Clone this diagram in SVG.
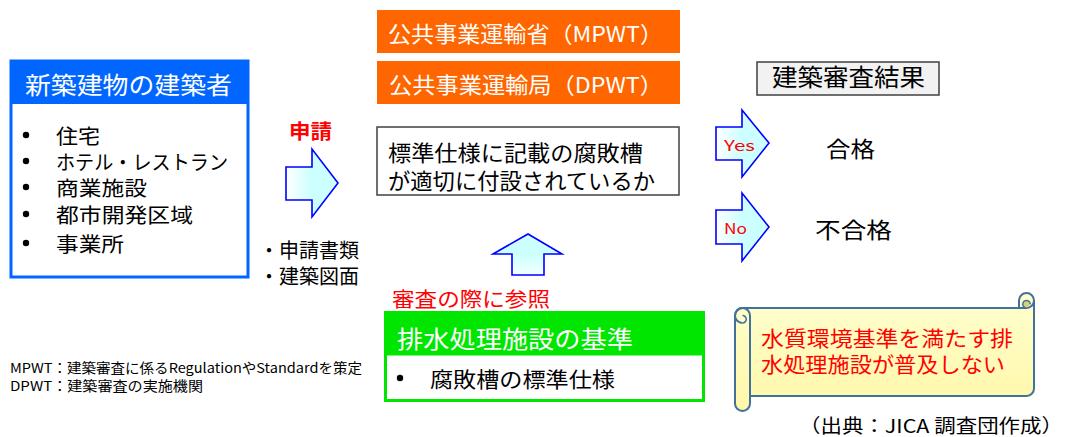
<svg xmlns="http://www.w3.org/2000/svg" width="1069" height="437" viewBox="0 0 1069 437">
<defs>
<linearGradient id="gR" x1="0" y1="0" x2="1" y2="0"><stop offset="0" stop-color="#ffffff"/><stop offset="0.5" stop-color="#ccffff"/><stop offset="1" stop-color="#ccffff"/></linearGradient>
<linearGradient id="gU" x1="0" y1="0" x2="0" y2="1"><stop offset="0" stop-color="#ccffff"/><stop offset="0.5" stop-color="#ccffff"/><stop offset="1" stop-color="#f4ffff"/></linearGradient>
<linearGradient id="gS" x1="0" y1="0" x2="0" y2="1"><stop offset="0" stop-color="#ffffd0"/><stop offset="1" stop-color="#fff7a8"/></linearGradient>
<style>
text{font-family:"Noto Sans CJK JP","Liberation Sans",sans-serif;dominant-baseline:central}
.w{fill:#ffffff}
.k{fill:#000000}
.r{fill:#ff0000}
.arr{stroke:#0000ff;stroke-width:1.6;stroke-linejoin:miter}
.dot{fill:#000000}
</style>
</defs>

<g id="builder">
<rect x="11" y="61" width="237" height="216" fill="#ffffff" stroke="#0066ff" stroke-width="3"/>
<rect x="11" y="61" width="237" height="43" fill="#0066ff"/>
<text x="25" y="83" class="w" font-size="24" textLength="207" lengthAdjust="spacingAndGlyphs">新築建物の建築者</text>
<circle class="dot" cx="26" cy="135" r="3.2"/>
<circle class="dot" cx="26" cy="161" r="3.2"/>
<circle class="dot" cx="26" cy="187" r="3.2"/>
<circle class="dot" cx="26" cy="214" r="3.2"/>
<circle class="dot" cx="26" cy="243" r="3.2"/>
<g class="k" font-size="20">
<text x="56" y="135" textLength="44" lengthAdjust="spacingAndGlyphs">住宅</text>
<text x="56" y="161" textLength="172" lengthAdjust="spacingAndGlyphs">ホテル・レストラン</text>
<text x="56" y="187" textLength="91" lengthAdjust="spacingAndGlyphs">商業施設</text>
<text x="56" y="214" textLength="137" lengthAdjust="spacingAndGlyphs">都市開発区域</text>
<text x="56" y="243" textLength="68" lengthAdjust="spacingAndGlyphs">事業所</text>
</g>
</g>

<g id="mpwt">
<rect x="377" y="10" width="303" height="43" fill="#ff6600"/>
<text x="388" y="32" class="w" font-size="22" textLength="275" lengthAdjust="spacingAndGlyphs">公共事業運輸省（MPWT）</text>
</g>
<g id="dpwt">
<rect x="377" y="61" width="303" height="43" fill="#ff6600"/>
<text x="389" y="83" class="w" font-size="22" textLength="274" lengthAdjust="spacingAndGlyphs">公共事業運輸局（DPWT）</text>
</g>

<g id="check">
<rect x="377" y="127" width="302" height="68" fill="#ffffff" stroke="#404040" stroke-width="1.5"/>
<text x="388" y="151" class="k" font-size="22" textLength="255" lengthAdjust="spacingAndGlyphs">標準仕様に記載の腐敗槽</text>
<text x="388" y="179" class="k" font-size="22" textLength="267" lengthAdjust="spacingAndGlyphs">が適切に付設されているか</text>
</g>

<g id="result-title">
<rect x="757" y="62" width="182" height="33" fill="#f2f2f2" stroke="#404040" stroke-width="1.5"/>
<text x="772" y="75" class="k" font-size="24" textLength="153" lengthAdjust="spacingAndGlyphs">建築審査結果</text>
</g>

<g id="pass"><text x="826" y="147" class="k" font-size="22" textLength="49" lengthAdjust="spacingAndGlyphs">合格</text></g>
<g id="fail"><text x="815" y="228" class="k" font-size="22" textLength="77" lengthAdjust="spacingAndGlyphs">不合格</text></g>

<g id="standard">
<rect x="385.5" y="312.5" width="318" height="88" fill="#ffffff" stroke="#00e600" stroke-width="3"/>
<rect x="385.5" y="312.5" width="318" height="43" fill="#00e600"/>
<text x="397" y="337" class="w" font-size="24" textLength="236" lengthAdjust="spacingAndGlyphs">排水処理施設の基準</text>
<circle class="dot" cx="400" cy="378" r="3.2"/>
<text x="430" y="378" class="k" font-size="21" textLength="185" lengthAdjust="spacingAndGlyphs">腐敗槽の標準仕様</text>
</g>

<g id="problem">
<path d="M735,315.5 A7.5,7.5 0 0 1 742.5,308 L1019,308 L1019,300.5 A7.5,7.5 0 0 1 1034,300.5 L1034,388.5 A7.5,7.5 0 0 1 1026.5,396 L750,396 L750,403.5 A7.5,7.5 0 0 1 735,403.5 Z" fill="url(#gS)" stroke="#41719c" stroke-width="2"/>
<path d="M742.5,308 A7.5,7.5 0 0 1 750,315.5 L750,396 M742.5,323 A7.5,7.5 0 0 1 742.5,308" fill="none" stroke="#41719c" stroke-width="2"/>
<path d="M742.5,323 A3.75,3.75 0 0 0 742.5,315.5 A3.75,3.75 0 0 1 746.25,319.25" fill="#d8d080" stroke="#41719c" stroke-width="1.5"/>
<path d="M1019,308 L1026.5,308 A7.5,7.5 0 0 0 1034,300.5" fill="none" stroke="#41719c" stroke-width="2"/>
<path d="M1026.5,308 A3.75,3.75 0 0 1 1026.5,300.5 A3.75,3.75 0 0 1 1030.25,304.25" fill="#d8d080" stroke="#41719c" stroke-width="1.5"/>
<text x="761" y="337" class="r" font-size="21" textLength="252" lengthAdjust="spacingAndGlyphs">水質環境基準を満たす排</text>
<text x="761" y="363" class="r" font-size="21" textLength="244" lengthAdjust="spacingAndGlyphs">水処理施設が普及しない</text>
</g>

<g id="connectors">
<polygon class="arr" fill="url(#gR)" points="286,167 312,167 312,149 338,183 312,217 312,200 286,200"/>
<polygon class="arr" fill="url(#gR)" points="716,127 742,127 742,110 769,143 742,177 742,160 716,160"/>
<polygon class="arr" fill="url(#gR)" points="716,210 742,210 742,193 769,227 742,261 742,244 716,244"/>
<polygon class="arr" fill="url(#gU)" points="512,275 512,254 493,254 528,234 562,254 544,254 544,275"/>
<text x="289" y="130" class="r" font-size="20" font-weight="bold" textLength="43" lengthAdjust="spacingAndGlyphs">申請</text>
<text x="724" y="145" class="r" font-size="14" font-family="Liberation Sans, sans-serif" textLength="31" lengthAdjust="spacingAndGlyphs">Yes</text>
<text x="724" y="228" class="r" font-size="14" font-family="Liberation Sans, sans-serif" textLength="23" lengthAdjust="spacingAndGlyphs">No</text>
<text x="392" y="298" class="r" font-size="20" textLength="158" lengthAdjust="spacingAndGlyphs">審査の際に参照</text>
<text x="259" y="249" class="k" font-size="20" textLength="100" lengthAdjust="spacingAndGlyphs">・申請書類</text>
<text x="259" y="275" class="k" font-size="20" textLength="100" lengthAdjust="spacingAndGlyphs">・建築図面</text>
</g>

<g id="notes">
<text x="10" y="367" class="k" font-size="13.5" textLength="352" lengthAdjust="spacingAndGlyphs">MPWT：建築審査に係るRegulationやStandardを策定</text>
<text x="10" y="385" class="k" font-size="13.5" textLength="193" lengthAdjust="spacingAndGlyphs">DPWT：建築審査の実施機関</text>
<text x="799" y="424" class="k" font-size="19" font-family="Liberation Serif, Noto Sans CJK JP, serif" textLength="264" lengthAdjust="spacingAndGlyphs">（出典：JICA 調査団作成）</text>
</g>
</svg>
